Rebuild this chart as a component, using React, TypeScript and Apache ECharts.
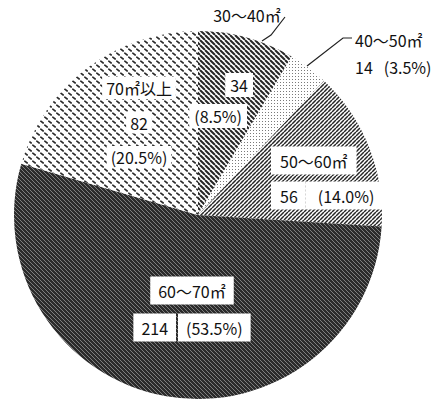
import React, { useEffect, useRef } from 'react';
import * as echarts from 'echarts';

// ---- data ----
const categories = ['30～40㎡', '40～50㎡', '50～60㎡', '60～70㎡', '70㎡以上'];
const counts = [34, 14, 56, 214, 82];
const percentLabels = ['(8.5%)', '(3.5%)', '(14.0%)', '(53.5%)', '(20.5%)'];

// ---- layout / style (not data) ----
const FONT = "'Noto Sans CJK JP', 'Noto Sans', sans-serif";
const CENTER = [198, 215];
const RADIUS = 184;

type Pos = { x: number; y: number; align: string; line?: number[][] } | null;
const INSIDE_POS: Pos[] = [
  { x: 253, y: 100.5, align: 'right' },
  null,
  { x: 271, y: 178, align: 'left' },
  { x: 192, y: 309, align: 'center' },
  { x: 139, y: 122.5, align: 'center' },
];
const OUTSIDE_POS: Pos[] = [
  { x: 247, y: 15, align: 'center', line: [[262, 41], [271, 35], [285, 17]] },
  { x: 355, y: 53.5, align: 'left', line: [[307, 66], [343, 38], [352, 38]] },
  null,
  null,
  null,
];

function makePattern(size: number, bg: string, draw: (ctx: CanvasRenderingContext2D, s: number) => void) {
  const c = document.createElement('canvas');
  c.width = size;
  c.height = size;
  const ctx = c.getContext('2d')!;
  ctx.fillStyle = bg;
  ctx.fillRect(0, 0, size, size);
  draw(ctx, size);
  return { image: c, repeat: 'repeat', imageWidth: size, imageHeight: size } as any;
}

function diag(dir: 'back' | 'fwd', color: string, width: number) {
  return (ctx: CanvasRenderingContext2D, s: number) => {
    ctx.strokeStyle = color;
    ctx.lineWidth = width;
    ctx.beginPath();
    for (let k = -1; k <= 1; k++) {
      if (dir === 'back') {
        ctx.moveTo(k * s, 0);
        ctx.lineTo(k * s + s, s);
      } else {
        ctx.moveTo(k * s, s);
        ctx.lineTo(k * s + s, 0);
      }
    }
    ctx.stroke();
  };
}

function buildPatterns() {
  const p0 = makePattern(5, '#ffffff', diag('back', '#262626', 2.0));
  const p1 = makePattern(3, '#ffffff', (ctx) => {
    ctx.fillStyle = '#7a7a7a';
    ctx.fillRect(1, 1, 1, 1);
  });
  const p2 = makePattern(4, '#ffffff', diag('fwd', '#262626', 1.5));
  const p3 = makePattern(4, '#2b2b2b', diag('back', '#888888', 0.9));
  const p4 = makePattern(8, '#ffffff', (ctx) => {
    ctx.strokeStyle = '#2a2a2a';
    ctx.lineWidth = 1.6;
    ctx.lineCap = 'round';
    ctx.beginPath();
    ctx.moveTo(0.8, 1.2);
    ctx.lineTo(3.2, 3.0);
    ctx.moveTo(4.8, 5.2);
    ctx.lineTo(7.2, 7.0);
    ctx.stroke();
  });
  return [p0, p1, p2, p3, p4];
}

const txt = { fontFamily: FONT, fontSize: 16, color: '#111' };

export default function App() {
  const ref = useRef<HTMLDivElement>(null);
  useEffect(() => {
    if (!ref.current) return;
    const chart = echarts.init(ref.current, undefined, { renderer: 'svg' });
    const patterns = buildPatterns();

    const insideFormat = [
      `{r0|${counts[0]}}\n{r0|${percentLabels[0]}}{sp0| }`,
      '',
      `{l2|${categories[2]}}\n{l2a|${counts[2]}}{l2b|${percentLabels[2]}}`,
      `{c3|${categories[3]}}\n{c3|${counts[3]}}{sp3| }{c3|${percentLabels[3]}}`,
      `{c4|${categories[4]}}\n{c4|${counts[4]}}\n{c4|${percentLabels[4]}}`,
    ];
    const outsideFormat = [
      `{n|${categories[0]}}`,
      `{n1|${categories[1]}}\n{v1|${counts[1]}}{p1|${percentLabels[1]}}`,
      '',
      '',
      '',
    ];

    const mainData = categories.map((name, i) => ({
      name,
      value: counts[i],
      itemStyle: { color: patterns[i] },
      label: { show: INSIDE_POS[i] != null, formatter: insideFormat[i] },
    }));
    const overlayData = categories.map((name, i) => ({
      name,
      value: counts[i],
      label: { show: OUTSIDE_POS[i] != null, formatter: outsideFormat[i] },
      labelLine: { show: OUTSIDE_POS[i] != null },
    }));

    chart.setOption({
      animation: false,
      backgroundColor: '#ffffff',
      series: [
        {
          type: 'pie',
          center: CENTER,
          radius: RADIUS,
          startAngle: 90,
          clockwise: true,
          avoidLabelOverlap: false,
          silent: true,
          itemStyle: { borderWidth: 0 },
          data: mainData,
          label: {
            position: 'inside',
            ...txt,
            rich: {
              r0: { ...txt, backgroundColor: '#fff', padding: [4, 5], lineHeight: 31, align: 'right' },
              sp0: { ...txt, width: 6, lineHeight: 31, align: 'right' },
              l2: { ...txt, backgroundColor: '#fff', padding: [6, 9], lineHeight: 35, align: 'left' },
              l2a: { ...txt, backgroundColor: '#fff', padding: [6, 8, 6, 9], lineHeight: 35, align: 'left' },
              l2b: { ...txt, backgroundColor: '#fff', padding: [6, 9, 6, 12], lineHeight: 35, align: 'left' },
              c3: { ...txt, backgroundColor: '#fff', padding: [6, 8], lineHeight: 37 },
              sp3: { ...txt, width: 2, lineHeight: 37 },
              c4: { ...txt, backgroundColor: '#fff', padding: [3, 4], lineHeight: 34.5 },
            },
          },
          labelLine: { show: false },
          labelLayout: (p: any) => {
            const pos = INSIDE_POS[p.dataIndex];
            if (!pos) return {};
            return { x: pos.x, y: pos.y, align: pos.align, verticalAlign: 'middle' };
          },
        },
        {
          type: 'pie',
          center: CENTER,
          radius: RADIUS,
          startAngle: 90,
          clockwise: true,
          avoidLabelOverlap: false,
          silent: true,
          itemStyle: { color: 'rgba(0,0,0,0)', borderWidth: 0 },
          data: overlayData,
          label: {
            position: 'outside',
            ...txt,
            rich: {
              n: { ...txt },
              n1: { ...txt, lineHeight: 27, align: 'left' },
              v1: { ...txt, lineHeight: 27, align: 'left' },
              p1: { ...txt, lineHeight: 27, align: 'left', padding: [0, 0, 0, 11] },
            },
          },
          labelLine: { lineStyle: { color: '#222', width: 1.2 } },
          labelLayout: (p: any) => {
            const pos = OUTSIDE_POS[p.dataIndex];
            if (!pos) return {};
            return {
              x: pos.x,
              y: pos.y,
              align: pos.align,
              verticalAlign: 'middle',
              labelLinePoints: pos.line,
            };
          },
        },
      ],
    });
    return () => chart.dispose();
  }, []);
  return (
    <div
      ref={ref}
      style={{ position: 'absolute', left: 0, top: 0, width: 440, height: 405 }}
    />
  );
}
